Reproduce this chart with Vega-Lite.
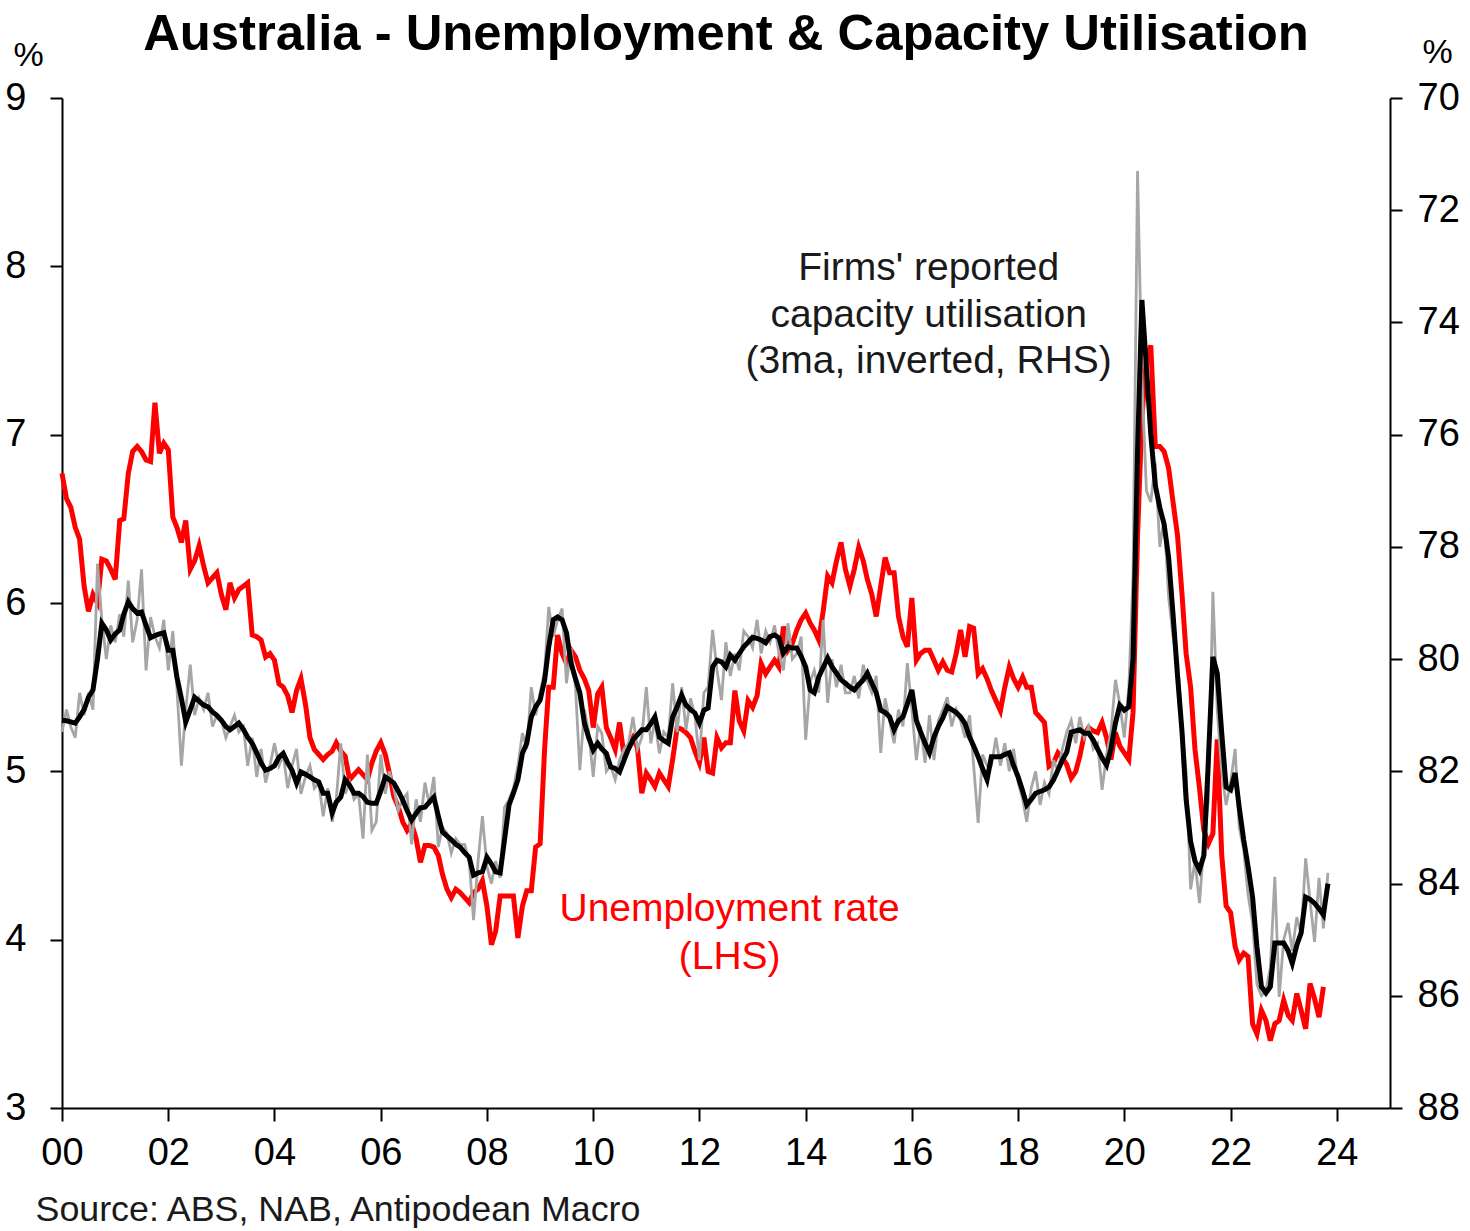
{
"$schema": "https://vega.github.io/schema/vega-lite/v6.json",
"width": 1328, "height": 1010,
"autosize": {"type": "none"},
"padding": {"left": 62, "top": 98, "right": 80, "bottom": 123},
"background": "white",
"config": {"view": {"stroke": null}, "font": "Liberation Sans"},
"title": {"text": "Australia - Unemployment & Capacity Utilisation", "fontSize": 50.8, "font": "Liberation Sans", "fontWeight": "bold", "anchor": "middle", "frame": "group", "baseline": "alphabetic", "offset": -66, "color": "#000000"},
"datasets": {
"ur": [
{"d":"2000-01","v":6.77},{"d":"2000-02","v":6.62},{"d":"2000-03","v":6.57},{"d":"2000-04","v":6.45},{"d":"2000-05","v":6.38},{"d":"2000-06","v":6.10},{"d":"2000-07","v":5.95},{"d":"2000-08","v":6.05},{"d":"2000-09","v":6.00},{"d":"2000-10","v":6.26},{"d":"2000-11","v":6.25},{"d":"2000-12","v":6.20},
{"d":"2001-01","v":6.14},{"d":"2001-02","v":6.49},{"d":"2001-03","v":6.50},{"d":"2001-04","v":6.77},{"d":"2001-05","v":6.90},{"d":"2001-06","v":6.93},{"d":"2001-07","v":6.90},{"d":"2001-08","v":6.85},{"d":"2001-09","v":6.84},{"d":"2001-10","v":7.19},{"d":"2001-11","v":6.89},{"d":"2001-12","v":6.95},
{"d":"2002-01","v":6.91},{"d":"2002-02","v":6.51},{"d":"2002-03","v":6.45},{"d":"2002-04","v":6.36},{"d":"2002-05","v":6.49},{"d":"2002-06","v":6.20},{"d":"2002-07","v":6.25},{"d":"2002-08","v":6.34},{"d":"2002-09","v":6.22},{"d":"2002-10","v":6.12},{"d":"2002-11","v":6.15},{"d":"2002-12","v":6.18},
{"d":"2003-01","v":6.05},{"d":"2003-02","v":5.96},{"d":"2003-03","v":6.12},{"d":"2003-04","v":6.03},{"d":"2003-05","v":6.08},{"d":"2003-06","v":6.10},{"d":"2003-07","v":6.12},{"d":"2003-08","v":5.81},{"d":"2003-09","v":5.80},{"d":"2003-10","v":5.78},{"d":"2003-11","v":5.68},{"d":"2003-12","v":5.70},
{"d":"2004-01","v":5.66},{"d":"2004-02","v":5.52},{"d":"2004-03","v":5.50},{"d":"2004-04","v":5.45},{"d":"2004-05","v":5.35},{"d":"2004-06","v":5.48},{"d":"2004-07","v":5.55},{"d":"2004-08","v":5.40},{"d":"2004-09","v":5.20},{"d":"2004-10","v":5.13},{"d":"2004-11","v":5.10},{"d":"2004-12","v":5.07},
{"d":"2005-01","v":5.10},{"d":"2005-02","v":5.12},{"d":"2005-03","v":5.17},{"d":"2005-04","v":5.12},{"d":"2005-05","v":5.09},{"d":"2005-06","v":4.95},{"d":"2005-07","v":4.98},{"d":"2005-08","v":5.01},{"d":"2005-09","v":4.98},{"d":"2005-10","v":4.95},{"d":"2005-11","v":5.05},{"d":"2005-12","v":5.12},
{"d":"2006-01","v":5.17},{"d":"2006-02","v":5.10},{"d":"2006-03","v":4.99},{"d":"2006-04","v":4.85},{"d":"2006-05","v":4.79},{"d":"2006-06","v":4.70},{"d":"2006-07","v":4.65},{"d":"2006-08","v":4.69},{"d":"2006-09","v":4.60},{"d":"2006-10","v":4.46},{"d":"2006-11","v":4.56},{"d":"2006-12","v":4.56},
{"d":"2007-01","v":4.55},{"d":"2007-02","v":4.50},{"d":"2007-03","v":4.39},{"d":"2007-04","v":4.30},{"d":"2007-05","v":4.25},{"d":"2007-06","v":4.30},{"d":"2007-07","v":4.28},{"d":"2007-08","v":4.25},{"d":"2007-09","v":4.22},{"d":"2007-10","v":4.28},{"d":"2007-11","v":4.30},{"d":"2007-12","v":4.35},
{"d":"2008-01","v":4.20},{"d":"2008-02","v":3.97},{"d":"2008-03","v":4.05},{"d":"2008-04","v":4.26},{"d":"2008-05","v":4.26},{"d":"2008-06","v":4.26},{"d":"2008-07","v":4.26},{"d":"2008-08","v":4.01},{"d":"2008-09","v":4.20},{"d":"2008-10","v":4.29},{"d":"2008-11","v":4.29},{"d":"2008-12","v":4.55},
{"d":"2009-01","v":4.57},{"d":"2009-02","v":5.14},{"d":"2009-03","v":5.50},{"d":"2009-04","v":5.50},{"d":"2009-05","v":5.81},{"d":"2009-06","v":5.70},{"d":"2009-07","v":5.64},{"d":"2009-08","v":5.72},{"d":"2009-09","v":5.68},{"d":"2009-10","v":5.60},{"d":"2009-11","v":5.55},{"d":"2009-12","v":5.48},
{"d":"2010-01","v":5.26},{"d":"2010-02","v":5.46},{"d":"2010-03","v":5.50},{"d":"2010-04","v":5.26},{"d":"2010-05","v":5.20},{"d":"2010-06","v":5.13},{"d":"2010-07","v":5.29},{"d":"2010-08","v":5.09},{"d":"2010-09","v":5.15},{"d":"2010-10","v":5.20},{"d":"2010-11","v":5.14},{"d":"2010-12","v":4.87},
{"d":"2011-01","v":4.99},{"d":"2011-02","v":4.95},{"d":"2011-03","v":4.91},{"d":"2011-04","v":4.99},{"d":"2011-05","v":4.95},{"d":"2011-06","v":4.91},{"d":"2011-07","v":5.07},{"d":"2011-08","v":5.26},{"d":"2011-09","v":5.25},{"d":"2011-10","v":5.23},{"d":"2011-11","v":5.20},{"d":"2011-12","v":5.12},
{"d":"2012-01","v":5.05},{"d":"2012-02","v":5.20},{"d":"2012-03","v":5.00},{"d":"2012-04","v":4.99},{"d":"2012-05","v":5.20},{"d":"2012-06","v":5.14},{"d":"2012-07","v":5.17},{"d":"2012-08","v":5.17},{"d":"2012-09","v":5.48},{"d":"2012-10","v":5.30},{"d":"2012-11","v":5.24},{"d":"2012-12","v":5.42},
{"d":"2013-01","v":5.38},{"d":"2013-02","v":5.45},{"d":"2013-03","v":5.64},{"d":"2013-04","v":5.58},{"d":"2013-05","v":5.62},{"d":"2013-06","v":5.66},{"d":"2013-07","v":5.62},{"d":"2013-08","v":5.86},{"d":"2013-09","v":5.72},{"d":"2013-10","v":5.76},{"d":"2013-11","v":5.84},{"d":"2013-12","v":5.90},
{"d":"2014-01","v":5.94},{"d":"2014-02","v":5.88},{"d":"2014-03","v":5.84},{"d":"2014-04","v":5.78},{"d":"2014-05","v":5.95},{"d":"2014-06","v":6.16},{"d":"2014-07","v":6.12},{"d":"2014-08","v":6.25},{"d":"2014-09","v":6.36},{"d":"2014-10","v":6.20},{"d":"2014-11","v":6.10},{"d":"2014-12","v":6.20},
{"d":"2015-01","v":6.33},{"d":"2015-02","v":6.25},{"d":"2015-03","v":6.14},{"d":"2015-04","v":6.05},{"d":"2015-05","v":5.92},{"d":"2015-06","v":6.10},{"d":"2015-07","v":6.27},{"d":"2015-08","v":6.18},{"d":"2015-09","v":6.18},{"d":"2015-10","v":5.92},{"d":"2015-11","v":5.80},{"d":"2015-12","v":5.74},
{"d":"2016-01","v":6.03},{"d":"2016-02","v":5.66},{"d":"2016-03","v":5.70},{"d":"2016-04","v":5.72},{"d":"2016-05","v":5.72},{"d":"2016-06","v":5.66},{"d":"2016-07","v":5.60},{"d":"2016-08","v":5.65},{"d":"2016-09","v":5.60},{"d":"2016-10","v":5.59},{"d":"2016-11","v":5.70},{"d":"2016-12","v":5.84},
{"d":"2017-01","v":5.68},{"d":"2017-02","v":5.86},{"d":"2017-03","v":5.85},{"d":"2017-04","v":5.58},{"d":"2017-05","v":5.61},{"d":"2017-06","v":5.55},{"d":"2017-07","v":5.48},{"d":"2017-08","v":5.42},{"d":"2017-09","v":5.36},{"d":"2017-10","v":5.50},{"d":"2017-11","v":5.62},{"d":"2017-12","v":5.55},
{"d":"2018-01","v":5.50},{"d":"2018-02","v":5.56},{"d":"2018-03","v":5.50},{"d":"2018-04","v":5.50},{"d":"2018-05","v":5.35},{"d":"2018-06","v":5.32},{"d":"2018-07","v":5.29},{"d":"2018-08","v":5.03},{"d":"2018-09","v":5.05},{"d":"2018-10","v":5.11},{"d":"2018-11","v":5.08},{"d":"2018-12","v":5.04},
{"d":"2019-01","v":4.96},{"d":"2019-02","v":5.00},{"d":"2019-03","v":5.09},{"d":"2019-04","v":5.22},{"d":"2019-05","v":5.26},{"d":"2019-06","v":5.24},{"d":"2019-07","v":5.23},{"d":"2019-08","v":5.29},{"d":"2019-09","v":5.20},{"d":"2019-10","v":5.07},{"d":"2019-11","v":5.23},{"d":"2019-12","v":5.15},
{"d":"2020-01","v":5.11},{"d":"2020-02","v":5.07},{"d":"2020-03","v":5.35},{"d":"2020-04","v":6.40},{"d":"2020-05","v":7.10},{"d":"2020-06","v":7.45},{"d":"2020-07","v":7.53},{"d":"2020-08","v":6.93},{"d":"2020-09","v":6.93},{"d":"2020-10","v":6.90},{"d":"2020-11","v":6.80},{"d":"2020-12","v":6.60},
{"d":"2021-01","v":6.40},{"d":"2021-02","v":6.05},{"d":"2021-03","v":5.70},{"d":"2021-04","v":5.50},{"d":"2021-05","v":5.13},{"d":"2021-06","v":4.90},{"d":"2021-07","v":4.65},{"d":"2021-08","v":4.57},{"d":"2021-09","v":4.63},{"d":"2021-10","v":5.19},{"d":"2021-11","v":4.50},{"d":"2021-12","v":4.20},
{"d":"2022-01","v":4.16},{"d":"2022-02","v":3.96},{"d":"2022-03","v":3.88},{"d":"2022-04","v":3.92},{"d":"2022-05","v":3.90},{"d":"2022-06","v":3.50},{"d":"2022-07","v":3.44},{"d":"2022-08","v":3.58},{"d":"2022-09","v":3.52},{"d":"2022-10","v":3.40},{"d":"2022-11","v":3.50},{"d":"2022-12","v":3.52},
{"d":"2023-01","v":3.64},{"d":"2023-02","v":3.55},{"d":"2023-03","v":3.52},{"d":"2023-04","v":3.68},{"d":"2023-05","v":3.58},{"d":"2023-06","v":3.47},{"d":"2023-07","v":3.74},{"d":"2023-08","v":3.65},{"d":"2023-09","v":3.54},{"d":"2023-10","v":3.72}
],
"cu": [
{"d":"2000-01","g":81.3,"b":81.09},{"d":"2000-02","g":80.9,"b":81.10},{"d":"2000-03","g":81.2,"b":81.12},{"d":"2000-04","g":81.4,"b":81.14},{"d":"2000-05","g":80.6,"b":81.03},{"d":"2000-06","g":81.0,"b":80.90},{"d":"2000-07","g":80.6,"b":80.68},{"d":"2000-08","g":80.9,"b":80.55},{"d":"2000-09","g":78.3,"b":80.00},{"d":"2000-10","g":79.3,"b":79.36},{"d":"2000-11","g":80.0,"b":79.48},{"d":"2000-12","g":79.4,"b":79.66},
{"d":"2001-01","g":79.7,"b":79.55},{"d":"2001-02","g":79.2,"b":79.48},{"d":"2001-03","g":79.6,"b":79.20},{"d":"2001-04","g":78.6,"b":78.98},{"d":"2001-05","g":79.7,"b":79.10},{"d":"2001-06","g":79.3,"b":79.18},{"d":"2001-07","g":78.4,"b":79.16},{"d":"2001-08","g":80.2,"b":79.40},{"d":"2001-09","g":79.25,"b":79.62},{"d":"2001-10","g":79.6,"b":79.58},{"d":"2001-11","g":79.8,"b":79.55},{"d":"2001-12","g":79.3,"b":79.53},
{"d":"2002-01","g":80.2,"b":79.84},{"d":"2002-02","g":79.5,"b":79.84},{"d":"2002-03","g":80.5,"b":80.32},{"d":"2002-04","g":81.9,"b":80.70},{"d":"2002-05","g":80.9,"b":81.12},{"d":"2002-06","g":80.1,"b":80.90},{"d":"2002-07","g":81.0,"b":80.68},{"d":"2002-08","g":80.7,"b":80.75},{"d":"2002-09","g":80.9,"b":80.82},{"d":"2002-10","g":80.6,"b":80.85},{"d":"2002-11","g":81.2,"b":80.94},{"d":"2002-12","g":81.0,"b":81.00},
{"d":"2003-01","g":81.1,"b":81.09},{"d":"2003-02","g":81.4,"b":81.20},{"d":"2003-03","g":81.2,"b":81.26},{"d":"2003-04","g":81.0,"b":81.20},{"d":"2003-05","g":81.3,"b":81.14},{"d":"2003-06","g":81.2,"b":81.25},{"d":"2003-07","g":81.9,"b":81.39},{"d":"2003-08","g":81.4,"b":81.50},{"d":"2003-09","g":82.1,"b":81.67},{"d":"2003-10","g":81.6,"b":81.85},{"d":"2003-11","g":82.2,"b":81.98},{"d":"2003-12","g":81.9,"b":81.95},
{"d":"2004-01","g":81.5,"b":81.90},{"d":"2004-02","g":81.9,"b":81.75},{"d":"2004-03","g":81.7,"b":81.68},{"d":"2004-04","g":82.3,"b":81.85},{"d":"2004-05","g":81.9,"b":81.98},{"d":"2004-06","g":81.6,"b":82.21},{"d":"2004-07","g":82.4,"b":82.01},{"d":"2004-08","g":82.1,"b":82.05},{"d":"2004-09","g":81.9,"b":82.10},{"d":"2004-10","g":82.3,"b":82.15},{"d":"2004-11","g":82.2,"b":82.19},{"d":"2004-12","g":82.8,"b":82.39},
{"d":"2005-01","g":82.3,"b":82.39},{"d":"2005-02","g":82.9,"b":82.74},{"d":"2005-03","g":82.5,"b":82.55},{"d":"2005-04","g":81.5,"b":82.46},{"d":"2005-05","g":82.4,"b":82.15},{"d":"2005-06","g":82.2,"b":82.25},{"d":"2005-07","g":82.5,"b":82.39},{"d":"2005-08","g":82.4,"b":82.39},{"d":"2005-09","g":83.2,"b":82.45},{"d":"2005-10","g":81.7,"b":82.55},{"d":"2005-11","g":83.05,"b":82.57},{"d":"2005-12","g":82.9,"b":82.57},
{"d":"2006-01","g":81.7,"b":82.35},{"d":"2006-02","g":82.4,"b":82.10},{"d":"2006-03","g":82.0,"b":82.15},{"d":"2006-04","g":82.3,"b":82.21},{"d":"2006-05","g":82.7,"b":82.35},{"d":"2006-06","g":82.5,"b":82.51},{"d":"2006-07","g":82.4,"b":82.70},{"d":"2006-08","g":83.3,"b":82.87},{"d":"2006-09","g":82.5,"b":82.75},{"d":"2006-10","g":82.9,"b":82.65},{"d":"2006-11","g":82.2,"b":82.64},{"d":"2006-12","g":82.6,"b":82.55},
{"d":"2007-01","g":82.1,"b":82.46},{"d":"2007-02","g":83.35,"b":82.80},{"d":"2007-03","g":83.0,"b":83.08},{"d":"2007-04","g":83.1,"b":83.15},{"d":"2007-05","g":83.46,"b":83.22},{"d":"2007-06","g":83.2,"b":83.30},{"d":"2007-07","g":83.3,"b":83.35},{"d":"2007-08","g":83.3,"b":83.45},{"d":"2007-09","g":83.6,"b":83.53},{"d":"2007-10","g":84.65,"b":83.85},{"d":"2007-11","g":83.6,"b":83.81},{"d":"2007-12","g":82.8,"b":83.79},
{"d":"2008-01","g":83.7,"b":83.53},{"d":"2008-02","g":84.0,"b":83.65},{"d":"2008-03","g":83.6,"b":83.79},{"d":"2008-04","g":83.9,"b":83.81},{"d":"2008-05","g":82.64,"b":83.22},{"d":"2008-06","g":82.5,"b":82.60},{"d":"2008-07","g":82.3,"b":82.39},{"d":"2008-08","g":81.9,"b":82.15},{"d":"2008-09","g":81.32,"b":81.68},{"d":"2008-10","g":81.6,"b":81.50},{"d":"2008-11","g":80.5,"b":81.03},{"d":"2008-12","g":81.0,"b":80.85},
{"d":"2009-01","g":80.6,"b":80.73},{"d":"2009-02","g":80.2,"b":80.37},{"d":"2009-03","g":79.07,"b":79.78},{"d":"2009-04","g":79.6,"b":79.30},{"d":"2009-05","g":79.3,"b":79.25},{"d":"2009-06","g":79.1,"b":79.30},{"d":"2009-07","g":80.43,"b":79.53},{"d":"2009-08","g":79.8,"b":80.07},{"d":"2009-09","g":80.5,"b":80.35},{"d":"2009-10","g":81.98,"b":80.60},{"d":"2009-11","g":80.9,"b":81.14},{"d":"2009-12","g":81.3,"b":81.40},
{"d":"2010-01","g":82.1,"b":81.62},{"d":"2010-02","g":81.2,"b":81.50},{"d":"2010-03","g":81.32,"b":81.60},{"d":"2010-04","g":82.0,"b":81.68},{"d":"2010-05","g":81.9,"b":81.92},{"d":"2010-06","g":82.15,"b":81.95},{"d":"2010-07","g":81.8,"b":82.01},{"d":"2010-08","g":81.6,"b":81.80},{"d":"2010-09","g":81.5,"b":81.60},{"d":"2010-10","g":81.03,"b":81.44},{"d":"2010-11","g":81.6,"b":81.35},{"d":"2010-12","g":81.4,"b":81.26},
{"d":"2011-01","g":80.5,"b":81.26},{"d":"2011-02","g":81.5,"b":81.15},{"d":"2011-03","g":81.1,"b":81.03},{"d":"2011-04","g":81.68,"b":81.39},{"d":"2011-05","g":81.3,"b":81.45},{"d":"2011-06","g":81.4,"b":81.50},{"d":"2011-07","g":80.43,"b":81.03},{"d":"2011-08","g":81.3,"b":80.85},{"d":"2011-09","g":80.5,"b":80.64},{"d":"2011-10","g":81.26,"b":80.82},{"d":"2011-11","g":80.7,"b":80.90},{"d":"2011-12","g":81.0,"b":80.96},
{"d":"2012-01","g":81.8,"b":81.14},{"d":"2012-02","g":80.6,"b":80.91},{"d":"2012-03","g":80.5,"b":80.87},{"d":"2012-04","g":79.48,"b":80.14},{"d":"2012-05","g":80.2,"b":80.02},{"d":"2012-06","g":80.73,"b":80.05},{"d":"2012-07","g":79.7,"b":80.14},{"d":"2012-08","g":80.3,"b":79.93},{"d":"2012-09","g":79.9,"b":80.02},{"d":"2012-10","g":80.2,"b":79.90},{"d":"2012-11","g":79.5,"b":79.78},{"d":"2012-12","g":79.6,"b":79.70},
{"d":"2013-01","g":79.8,"b":79.61},{"d":"2013-02","g":79.3,"b":79.63},{"d":"2013-03","g":79.9,"b":79.66},{"d":"2013-04","g":79.5,"b":79.71},{"d":"2013-05","g":79.7,"b":79.60},{"d":"2013-06","g":79.4,"b":79.57},{"d":"2013-07","g":79.9,"b":79.62},{"d":"2013-08","g":80.2,"b":79.89},{"d":"2013-09","g":79.36,"b":79.78},{"d":"2013-10","g":80.0,"b":79.80},{"d":"2013-11","g":79.9,"b":79.80},{"d":"2013-12","g":79.6,"b":79.95},
{"d":"2014-01","g":81.44,"b":80.14},{"d":"2014-02","g":80.4,"b":80.55},{"d":"2014-03","g":80.2,"b":80.60},{"d":"2014-04","g":80.6,"b":80.32},{"d":"2014-05","g":79.3,"b":80.15},{"d":"2014-06","g":80.78,"b":79.98},{"d":"2014-07","g":80.0,"b":80.14},{"d":"2014-08","g":80.5,"b":80.25},{"d":"2014-09","g":80.1,"b":80.37},{"d":"2014-10","g":80.6,"b":80.43},{"d":"2014-11","g":80.6,"b":80.50},{"d":"2014-12","g":80.3,"b":80.55},
{"d":"2015-01","g":80.7,"b":80.45},{"d":"2015-02","g":80.1,"b":80.37},{"d":"2015-03","g":80.4,"b":80.25},{"d":"2015-04","g":80.6,"b":80.43},{"d":"2015-05","g":80.3,"b":80.60},{"d":"2015-06","g":81.67,"b":80.91},{"d":"2015-07","g":80.7,"b":80.95},{"d":"2015-08","g":81.1,"b":81.03},{"d":"2015-09","g":81.5,"b":81.26},{"d":"2015-10","g":80.9,"b":81.10},{"d":"2015-11","g":81.2,"b":81.03},{"d":"2015-12","g":80.07,"b":80.80},
{"d":"2016-01","g":80.9,"b":80.55},{"d":"2016-02","g":81.8,"b":81.09},{"d":"2016-03","g":81.2,"b":81.30},{"d":"2016-04","g":81.85,"b":81.50},{"d":"2016-05","g":81.0,"b":81.67},{"d":"2016-06","g":81.8,"b":81.39},{"d":"2016-07","g":81.1,"b":81.20},{"d":"2016-08","g":80.9,"b":81.05},{"d":"2016-09","g":80.68,"b":80.85},{"d":"2016-10","g":81.2,"b":80.90},{"d":"2016-11","g":80.9,"b":80.95},{"d":"2016-12","g":81.1,"b":81.03},
{"d":"2017-01","g":81.4,"b":81.15},{"d":"2017-02","g":81.0,"b":81.39},{"d":"2017-03","g":81.9,"b":81.55},{"d":"2017-04","g":82.92,"b":81.74},{"d":"2017-05","g":81.7,"b":81.95},{"d":"2017-06","g":81.9,"b":82.15},{"d":"2017-07","g":81.9,"b":81.74},{"d":"2017-08","g":81.4,"b":81.74},{"d":"2017-09","g":81.9,"b":81.74},{"d":"2017-10","g":81.5,"b":81.70},{"d":"2017-11","g":82.0,"b":81.67},{"d":"2017-12","g":81.6,"b":81.90},
{"d":"2018-01","g":82.2,"b":82.10},{"d":"2018-02","g":82.5,"b":82.35},{"d":"2018-03","g":82.9,"b":82.60},{"d":"2018-04","g":82.3,"b":82.50},{"d":"2018-05","g":82.0,"b":82.39},{"d":"2018-06","g":82.6,"b":82.36},{"d":"2018-07","g":82.2,"b":82.33},{"d":"2018-08","g":82.4,"b":82.28},{"d":"2018-09","g":81.8,"b":82.15},{"d":"2018-10","g":82.0,"b":81.98},{"d":"2018-11","g":81.6,"b":81.80},{"d":"2018-12","g":81.3,"b":81.66},
{"d":"2019-01","g":81.09,"b":81.30},{"d":"2019-02","g":81.5,"b":81.28},{"d":"2019-03","g":81.03,"b":81.26},{"d":"2019-04","g":81.4,"b":81.32},{"d":"2019-05","g":81.2,"b":81.32},{"d":"2019-06","g":81.6,"b":81.44},{"d":"2019-07","g":81.5,"b":81.60},{"d":"2019-08","g":82.33,"b":81.76},{"d":"2019-09","g":81.7,"b":81.89},{"d":"2019-10","g":81.3,"b":81.60},{"d":"2019-11","g":80.37,"b":81.14},{"d":"2019-12","g":80.8,"b":80.82},
{"d":"2020-01","g":81.4,"b":80.91},{"d":"2020-02","g":80.5,"b":80.85},{"d":"2020-03","g":78.5,"b":80.00},{"d":"2020-04","g":71.3,"b":76.30},{"d":"2020-05","g":75.0,"b":73.60},{"d":"2020-06","g":77.0,"b":74.80},{"d":"2020-07","g":77.2,"b":76.00},{"d":"2020-08","g":76.5,"b":76.90},{"d":"2020-09","g":78.0,"b":77.30},{"d":"2020-10","g":77.5,"b":77.60},{"d":"2020-11","g":78.9,"b":78.20},{"d":"2020-12","g":79.6,"b":79.20},
{"d":"2021-01","g":80.0,"b":80.30},{"d":"2021-02","g":81.2,"b":81.30},{"d":"2021-03","g":82.0,"b":82.50},{"d":"2021-04","g":84.1,"b":83.25},{"d":"2021-05","g":83.6,"b":83.60},{"d":"2021-06","g":84.35,"b":83.76},{"d":"2021-07","g":83.3,"b":83.50},{"d":"2021-08","g":82.5,"b":81.80},{"d":"2021-09","g":78.8,"b":79.96},{"d":"2021-10","g":80.9,"b":80.25},{"d":"2021-11","g":82.0,"b":81.32},{"d":"2021-12","g":82.6,"b":82.28},
{"d":"2022-01","g":82.2,"b":82.33},{"d":"2022-02","g":81.6,"b":82.03},{"d":"2022-03","g":83.0,"b":82.64},{"d":"2022-04","g":83.4,"b":83.22},{"d":"2022-05","g":84.2,"b":83.70},{"d":"2022-06","g":84.7,"b":84.24},{"d":"2022-07","g":85.8,"b":85.13},{"d":"2022-08","g":86.0,"b":85.84},{"d":"2022-09","g":85.9,"b":85.95},{"d":"2022-10","g":85.5,"b":85.84},{"d":"2022-11","g":83.88,"b":85.06},{"d":"2022-12","g":86.02,"b":85.06},
{"d":"2023-01","g":85.0,"b":85.06},{"d":"2023-02","g":84.7,"b":85.20},{"d":"2023-03","g":85.2,"b":85.42},{"d":"2023-04","g":84.6,"b":85.10},{"d":"2023-05","g":84.9,"b":84.88},{"d":"2023-06","g":83.55,"b":84.24},{"d":"2023-07","g":84.3,"b":84.28},{"d":"2023-08","g":85.04,"b":84.35},{"d":"2023-09","g":83.9,"b":84.45},{"d":"2023-10","g":84.8,"b":84.56},{"d":"2023-11","g":83.81,"b":84.00}
],
"notesK": [
{"d":"2016-04-26","v":7.99,"t":"Firms' reported"},
{"d":"2016-04-26","v":7.71,"t":"capacity utilisation"},
{"d":"2016-04-26","v":7.44,"t":"(3ma, inverted, RHS)"}
],
"notesR": [
{"d":"2012-07-27","v":4.18,"t":"Unemployment rate"},
{"d":"2012-07-27","v":3.90,"t":"(LHS)"}
]
},
"layer": [
{
"layer": [
{
"data": {"name": "ur"},
"mark": {"type": "line", "color": "#ff0000", "strokeWidth": 5},
"encoding": {
"x": {"field": "d", "type": "temporal", "title": "Source: ABS, NAB, Antipodean Macro",
"scale": {"type": "utc", "domain": [{"year": 2000, "month": 1, "date": 1, "utc": true}, {"year": 2025, "month": 1, "date": 1, "utc": true}]},
"axis": {"labelExpr": "utcFormat(datum.value, '%y')", "tickCount": {"interval": "year", "step": 2}, "labelFlush": false, "labelOverlap": false, "grid": false, "labelFontSize": 38, "labelFont": "Liberation Sans", "labelColor": "#000000", "labelPadding": 13, "tickSize": 13, "tickWidth": 2, "tickColor": "#000000", "domainColor": "#000000", "domainWidth": 2, "title": "Source: ABS, NAB, Antipodean Macro", "titleFont": "Liberation Sans", "titleFontSize": 35.8, "titleFontWeight": "normal", "titleColor": "#1a1a1a", "titleAlign": "left", "titleAnchor": "start", "titleBaseline": "alphabetic", "titleX": -27, "titleY": 112}},
"y": {"field": "v", "type": "quantitative", "title": "%", "scale": {"domain": [3, 9], "nice": false, "zero": false},
"axis": {"orient": "left", "format": "d", "values": [3, 4, 5, 6, 7, 8, 9], "grid": false, "labelFontSize": 38, "labelFont": "Liberation Sans", "labelColor": "#000000", "labelPadding": 24, "tickSize": 12, "tickWidth": 2, "tickColor": "#000000", "domainColor": "#000000", "domainWidth": 2, "title": "%", "titleAngle": 0, "titleFont": "Liberation Sans", "titleFontSize": 34, "titleFontWeight": "normal", "titleColor": "#000000", "titleAlign": "center", "titleBaseline": "alphabetic", "titleX": -34, "titleY": -33}}
}
},
{
"data": {"name": "notesR"},
"mark": {"type": "text", "font": "Liberation Sans", "fontSize": 39, "color": "#ff0000", "align": "center", "baseline": "middle"},
"encoding": {
"x": {"field": "d", "type": "temporal", "title": "Source: ABS, NAB, Antipodean Macro",
"scale": {"type": "utc", "domain": [{"year": 2000, "month": 1, "date": 1, "utc": true}, {"year": 2025, "month": 1, "date": 1, "utc": true}]},
"axis": {"labelExpr": "utcFormat(datum.value, '%y')", "tickCount": {"interval": "year", "step": 2}, "labelFlush": false, "labelOverlap": false, "grid": false, "labelFontSize": 38, "labelFont": "Liberation Sans", "labelColor": "#000000", "labelPadding": 13, "tickSize": 13, "tickWidth": 2, "tickColor": "#000000", "domainColor": "#000000", "domainWidth": 2, "title": "Source: ABS, NAB, Antipodean Macro", "titleFont": "Liberation Sans", "titleFontSize": 35.8, "titleFontWeight": "normal", "titleColor": "#1a1a1a", "titleAlign": "left", "titleAnchor": "start", "titleBaseline": "alphabetic", "titleX": -27, "titleY": 112}},
"y": {"field": "v", "type": "quantitative", "title": "%", "scale": {"domain": [3, 9], "nice": false, "zero": false},
"axis": {"orient": "left", "format": "d", "values": [3, 4, 5, 6, 7, 8, 9], "grid": false, "labelFontSize": 38, "labelFont": "Liberation Sans", "labelColor": "#000000", "labelPadding": 24, "tickSize": 12, "tickWidth": 2, "tickColor": "#000000", "domainColor": "#000000", "domainWidth": 2, "title": "%", "titleAngle": 0, "titleFont": "Liberation Sans", "titleFontSize": 34, "titleFontWeight": "normal", "titleColor": "#000000", "titleAlign": "center", "titleBaseline": "alphabetic", "titleX": -34, "titleY": -33}},
"text": {"field": "t"}
}
},
{
"data": {"name": "notesK"},
"mark": {"type": "text", "font": "Liberation Sans", "fontSize": 39, "color": "#1a1a1a", "align": "center", "baseline": "middle"},
"encoding": {
"x": {"field": "d", "type": "temporal", "title": "Source: ABS, NAB, Antipodean Macro",
"scale": {"type": "utc", "domain": [{"year": 2000, "month": 1, "date": 1, "utc": true}, {"year": 2025, "month": 1, "date": 1, "utc": true}]},
"axis": {"labelExpr": "utcFormat(datum.value, '%y')", "tickCount": {"interval": "year", "step": 2}, "labelFlush": false, "labelOverlap": false, "grid": false, "labelFontSize": 38, "labelFont": "Liberation Sans", "labelColor": "#000000", "labelPadding": 13, "tickSize": 13, "tickWidth": 2, "tickColor": "#000000", "domainColor": "#000000", "domainWidth": 2, "title": "Source: ABS, NAB, Antipodean Macro", "titleFont": "Liberation Sans", "titleFontSize": 35.8, "titleFontWeight": "normal", "titleColor": "#1a1a1a", "titleAlign": "left", "titleAnchor": "start", "titleBaseline": "alphabetic", "titleX": -27, "titleY": 112}},
"y": {"field": "v", "type": "quantitative", "title": "%", "scale": {"domain": [3, 9], "nice": false, "zero": false},
"axis": {"orient": "left", "format": "d", "values": [3, 4, 5, 6, 7, 8, 9], "grid": false, "labelFontSize": 38, "labelFont": "Liberation Sans", "labelColor": "#000000", "labelPadding": 24, "tickSize": 12, "tickWidth": 2, "tickColor": "#000000", "domainColor": "#000000", "domainWidth": 2, "title": "%", "titleAngle": 0, "titleFont": "Liberation Sans", "titleFontSize": 34, "titleFontWeight": "normal", "titleColor": "#000000", "titleAlign": "center", "titleBaseline": "alphabetic", "titleX": -34, "titleY": -33}},
"text": {"field": "t"}
}
}
]
},
{
"layer": [
{
"data": {"name": "cu"},
"mark": {"type": "line", "color": "#a6a6a6", "strokeWidth": 2.8},
"encoding": {
"x": {"field": "d", "type": "temporal", "title": "Source: ABS, NAB, Antipodean Macro",
"scale": {"type": "utc", "domain": [{"year": 2000, "month": 1, "date": 1, "utc": true}, {"year": 2025, "month": 1, "date": 1, "utc": true}]},
"axis": {"labelExpr": "utcFormat(datum.value, '%y')", "tickCount": {"interval": "year", "step": 2}, "labelFlush": false, "labelOverlap": false, "grid": false, "labelFontSize": 38, "labelFont": "Liberation Sans", "labelColor": "#000000", "labelPadding": 13, "tickSize": 13, "tickWidth": 2, "tickColor": "#000000", "domainColor": "#000000", "domainWidth": 2, "title": "Source: ABS, NAB, Antipodean Macro", "titleFont": "Liberation Sans", "titleFontSize": 35.8, "titleFontWeight": "normal", "titleColor": "#1a1a1a", "titleAlign": "left", "titleAnchor": "start", "titleBaseline": "alphabetic", "titleX": -27, "titleY": 112}},
"y": {"field": "g", "type": "quantitative", "title": "%", "scale": {"domain": [70, 88], "reverse": true, "nice": false, "zero": false},
"axis": {"orient": "right", "format": "d", "values": [70, 72, 74, 76, 78, 80, 82, 84, 86, 88], "grid": false, "labelFontSize": 38, "labelFont": "Liberation Sans", "labelColor": "#000000", "labelPadding": 15, "tickSize": 12, "tickWidth": 2, "tickColor": "#000000", "domainColor": "#000000", "domainWidth": 2, "title": "%", "titleAngle": 0, "titleFont": "Liberation Sans", "titleFontSize": 34, "titleFontWeight": "normal", "titleColor": "#000000", "titleAlign": "center", "titleBaseline": "alphabetic", "titleX": 47, "titleY": -36}}
}
},
{
"data": {"name": "cu"},
"mark": {"type": "line", "color": "#000000", "strokeWidth": 5},
"encoding": {
"x": {"field": "d", "type": "temporal", "title": "Source: ABS, NAB, Antipodean Macro",
"scale": {"type": "utc", "domain": [{"year": 2000, "month": 1, "date": 1, "utc": true}, {"year": 2025, "month": 1, "date": 1, "utc": true}]},
"axis": {"labelExpr": "utcFormat(datum.value, '%y')", "tickCount": {"interval": "year", "step": 2}, "labelFlush": false, "labelOverlap": false, "grid": false, "labelFontSize": 38, "labelFont": "Liberation Sans", "labelColor": "#000000", "labelPadding": 13, "tickSize": 13, "tickWidth": 2, "tickColor": "#000000", "domainColor": "#000000", "domainWidth": 2, "title": "Source: ABS, NAB, Antipodean Macro", "titleFont": "Liberation Sans", "titleFontSize": 35.8, "titleFontWeight": "normal", "titleColor": "#1a1a1a", "titleAlign": "left", "titleAnchor": "start", "titleBaseline": "alphabetic", "titleX": -27, "titleY": 112}},
"y": {"field": "b", "type": "quantitative", "title": "%", "scale": {"domain": [70, 88], "reverse": true, "nice": false, "zero": false},
"axis": {"orient": "right", "format": "d", "values": [70, 72, 74, 76, 78, 80, 82, 84, 86, 88], "grid": false, "labelFontSize": 38, "labelFont": "Liberation Sans", "labelColor": "#000000", "labelPadding": 15, "tickSize": 12, "tickWidth": 2, "tickColor": "#000000", "domainColor": "#000000", "domainWidth": 2, "title": "%", "titleAngle": 0, "titleFont": "Liberation Sans", "titleFontSize": 34, "titleFontWeight": "normal", "titleColor": "#000000", "titleAlign": "center", "titleBaseline": "alphabetic", "titleX": 47, "titleY": -36}}
}
}
]
}
],
"resolve": {"scale": {"y": "independent"}}
}
